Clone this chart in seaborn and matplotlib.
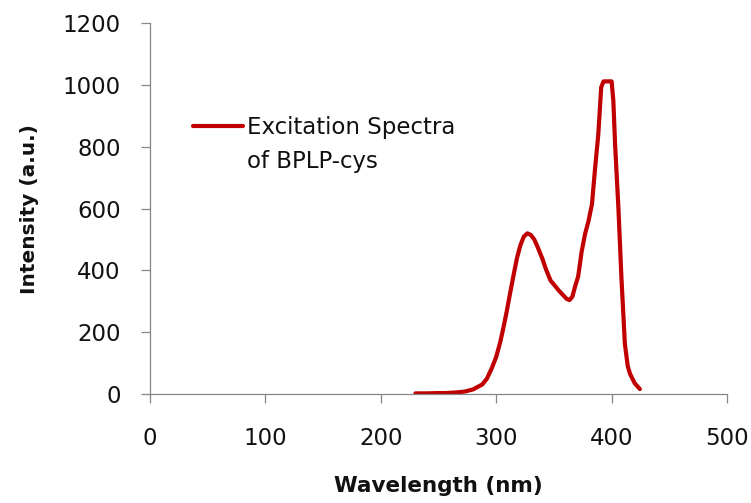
import matplotlib
matplotlib.use("Agg")
import matplotlib.pyplot as plt
import pandas as pd
import seaborn as sns

# Excitation spectrum of BPLP-cys (wavelength in nm, intensity in a.u.)
wavelength = [230, 240, 250, 256, 265, 273, 280, 288, 292, 296, 300, 303.5, 306,
              309, 312, 315, 318, 321, 324, 327, 330, 333, 336, 340, 343, 347,
              351, 354, 358, 361, 363.5, 366, 368.5, 371, 374, 377, 380, 383,
              385.5, 388.5, 391, 393, 400, 401.5, 403, 406, 408.5, 411.5, 414,
              416, 420, 424.5]
intensity = [2, 2, 3, 3, 5, 8, 15, 31, 50, 82, 120, 168, 210,
             265, 325, 384, 440, 482, 510, 520, 515, 500, 475, 438, 405, 368,
             350, 336, 320, 308, 304, 315, 350, 380, 460, 518, 560, 615,
             723, 842, 993, 1012, 1012, 950, 810, 594, 378, 162, 90,
             65, 35, 16]

series_label = "Excitation Spectra"
series_label_2 = "of BPLP-cys"
x_ticks = [0, 100, 200, 300, 400, 500]
y_ticks = [0, 200, 400, 600, 800, 1000, 1200]

df = pd.DataFrame({"Wavelength (nm)": wavelength, "Intensity (a.u.)": intensity})

sns.set_style("ticks")
plt.rcParams["font.family"] = ["DejaVu Sans"]

fig = plt.figure(figsize=(7.51, 5.03), dpi=100)
ax = fig.add_axes([150 / 751, 1 - 394 / 503, 577 / 751, 370.7 / 503])

red = "#C00000"
sns.lineplot(data=df, x="Wavelength (nm)", y="Intensity (a.u.)", ax=ax,
             color=red, linewidth=3, estimator=None, sort=False,
             label=series_label)

ax.set_xlim(0, 500)
ax.set_ylim(0, 1200)
ax.set_xticks(x_ticks)
ax.set_yticks(y_ticks)

grey = "#868686"
for side in ("top", "right"):
    ax.spines[side].set_visible(False)
for side in ("left", "bottom"):
    ax.spines[side].set_color(grey)
    ax.spines[side].set_linewidth(0.9)

ax.tick_params(axis="both", which="major", direction="out", length=6.5,
               width=0.9, color=grey, labelsize=16.5, labelcolor="#111111",
               bottom=True, left=True, top=False, right=False)
ax.tick_params(axis="y", pad=14.5)
ax.tick_params(axis="x", pad=17)

ax.set_xlabel("Wavelength (nm)", fontsize=15.5, fontweight="bold", color="#111111")
ax.set_ylabel("Intensity (a.u.)", fontsize=14.5, fontweight="bold", color="#111111")
ax.xaxis.set_label_coords(0.5, -0.222)
ax.yaxis.set_label_coords(-0.193, 0.5)

leg = ax.legend(loc="upper left", bbox_to_anchor=(193 / 751, 1 - 116 / 503),
                bbox_transform=fig.transFigure, frameon=False, borderpad=0,
                borderaxespad=0, handlelength=2.18, handletextpad=0.17,
                fontsize=16.5)
for t in leg.get_texts():
    t.set_color("#111111")

# second line of the legend entry, set under the first one
fig.text(247 / 751, 1 - 168 / 503, series_label_2, ha="left", va="baseline",
         fontsize=16.5, color="#111111")

fig.savefig("out.png", dpi=100)
